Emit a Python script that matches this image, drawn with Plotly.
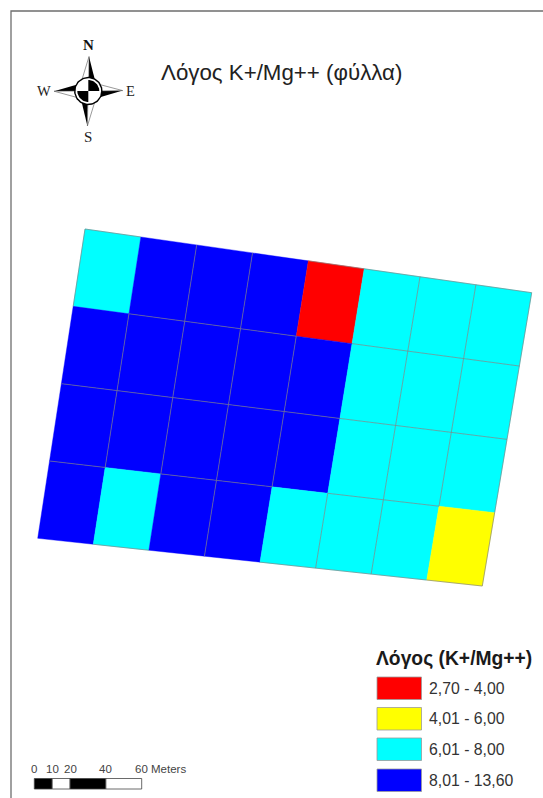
import numpy as np
import plotly.graph_objects as go

# ---- data ----
class_labels = ["2,70 - 4,00", "4,01 - 6,00", "6,01 - 8,00", "8,01 - 13,60"]
class_colors = ["#ff0000", "#ffff00", "#00ffff", "#0000ff"]
# class index of each plot cell, row by row from the north-west corner
row_1 = [2, 3, 3, 3, 0, 2, 2, 2]
row_2 = [3, 3, 3, 3, 3, 2, 2, 2]
row_3 = [3, 3, 3, 3, 3, 2, 2, 2]
row_4 = [3, 2, 3, 3, 2, 2, 2, 1]
cell_rows = [row_1, row_2, row_3, row_4]
# outline of the field on the map
field_nw = (85.0, 229.0)
field_ne = (531.7, 292.7)
field_sw = (37.7, 538.3)
field_se = (482.3, 586.0)
title_text = "Λόγος K+/Mg++ (φύλλα)"
legend_title = "Λόγος (K+/Mg++)"
scale_ticks = [0, 10, 20, 40, 60]
scale_unit = "Meters"

BORDER = "rgba(128,128,128,0.85)"
fig = go.Figure()


def poly(xs, ys, fill, line=None, width=0.0):
    fig.add_trace(go.Scatter(
        x=list(xs) + [xs[0]], y=list(ys) + [ys[0]], mode="lines", fill="toself",
        fillcolor=fill, line=dict(color=line or fill, width=width),
        hoverinfo="skip", showlegend=False))


def seg(p, q):
    fig.add_trace(go.Scatter(x=[p[0], q[0]], y=[p[1], q[1]], mode="lines",
                             line=dict(color=BORDER, width=0.8),
                             hoverinfo="skip", showlegend=False))


def label(x, y, text, size, color="#222222", family="Liberation Sans", anchor="left", bold=False):
    fig.add_annotation(x=x, y=y, text=f"<b>{text}</b>" if bold else text, showarrow=False,
                       xanchor=anchor, yanchor="middle", xshift=0,
                       font=dict(size=size, color=color, family=family),
                       borderpad=0, borderwidth=0)


def vertex(col, row):
    u, v = col / 8, row / 4
    nw, ne, sw, se = map(np.array, (field_nw, field_ne, field_sw, field_se))
    return (1 - v) * ((1 - u) * nw + u * ne) + v * ((1 - u) * sw + u * se)


# ---- field cells ----
for r, row in enumerate(cell_rows):
    for c, cls in enumerate(row):
        pts = [vertex(c, r), vertex(c + 1, r), vertex(c + 1, r + 1), vertex(c, r + 1)]
        poly([p[0] for p in pts], [p[1] for p in pts], class_colors[cls], class_colors[cls], 0.4)

# grey cell outlines show only between cells of one class and on the light outer edge
n_rows, n_cols = len(cell_rows), len(cell_rows[0])
for r in range(n_rows):
    for c in range(n_cols):
        cls = cell_rows[r][c]
        if c + 1 < n_cols and cell_rows[r][c + 1] == cls:
            seg(vertex(c + 1, r), vertex(c + 1, r + 1))
        if r + 1 < n_rows and cell_rows[r + 1][c] == cls:
            seg(vertex(c, r + 1), vertex(c + 1, r + 1))
        if cls != 3:
            if r == 0:
                seg(vertex(c, 0), vertex(c + 1, 0))
            if r == n_rows - 1:
                seg(vertex(c, n_rows), vertex(c + 1, n_rows))
            if c == 0:
                seg(vertex(0, r), vertex(0, r + 1))
            if c == n_cols - 1:
                seg(vertex(n_cols, r), vertex(n_cols, r + 1))

# ---- frame ----
fig.add_trace(go.Scatter(x=[11, 11, 543], y=[798, 11, 11], mode="lines",
                         line=dict(color="#6e6e6e", width=1.3),
                         hoverinfo="skip", showlegend=False))

# ---- north arrow ----
cx, cy = 88.3, 91.0
tips = {"N": (89.0, 56.5), "E": (122.7, 90.6), "S": (87.4, 126.0), "W": (54.0, 91.2)}
b = 7.5
poly([tips["N"][0], cx + b, cx + 0.4], [tips["N"][1], cy - b, cy - b], "#000000")
poly([tips["N"][0], cx - b, cx + 0.4], [tips["N"][1], cy - b, cy - b], "#ffffff", "#555555", 0.6)
poly([tips["E"][0], cx + b, cx + b], [tips["E"][1], cy + b, cy], "#000000")
poly([tips["E"][0], cx + b, cx + b], [tips["E"][1], cy - b, cy], "#ffffff", "#555555", 0.6)
poly([tips["S"][0], cx - b, cx - 0.4], [tips["S"][1], cy + b, cy + b], "#000000")
poly([tips["S"][0], cx + b, cx - 0.4], [tips["S"][1], cy + b, cy + b], "#ffffff", "#555555", 0.6)
poly([tips["W"][0], cx - b, cx - b], [tips["W"][1], cy - b, cy], "#000000")
poly([tips["W"][0], cx - b, cx - b], [tips["W"][1], cy + b, cy], "#ffffff", "#555555", 0.6)
t = np.linspace(0, 2 * np.pi, 73)
poly(cx + 14.2 * np.cos(t), cy + 14.2 * np.sin(t), "#000000")
poly(cx + 12.8 * np.cos(t), cy + 12.8 * np.sin(t), "#ffffff")
for a0 in (-np.pi / 2, np.pi / 2):
    q = np.linspace(a0, a0 + np.pi / 2, 19)
    poly(np.r_[cx, cx + 11.0 * np.cos(q)], np.r_[cy, cy + 11.0 * np.sin(q)], "#000000")
label(88.3, 45, "N", 15, "#111111", "Liberation Serif", "center", True)
label(88.0, 137, "S", 15, "#222222", "Liberation Serif", "center")
label(43.5, 90.5, "W", 14.5, "#222222", "Liberation Serif", "center")
label(130.5, 90.5, "E", 14.5, "#222222", "Liberation Serif", "center")

# ---- title ----
label(161, 72, title_text, 22.3, "#222222")

# ---- legend ----
label(376, 659, legend_title, 19.3, "#1a1a1a", bold=True)
swatch_tops = [677, 707.5, 738, 769]
for top, color, text in zip(swatch_tops, class_colors, class_labels):
    poly([377, 421.5, 421.5, 377], [top, top, top + 22.5, top + 22.5], color, "#9a9a9a", 0.8)
    label(429, top + 11, text, 15.8, "#333333")

# ---- scale bar ----
x0, per_unit = 34.3, 1.79
for left, right, color in zip(scale_ticks[:-1], scale_ticks[1:], ["#000000", "#ffffff", "#000000", "#ffffff"]):
    poly([x0 + left * per_unit, x0 + right * per_unit, x0 + right * per_unit, x0 + left * per_unit],
         [778.5, 778.5, 789, 789], color, "#444444", 0.8)
for v in scale_ticks:
    label(x0 + v * per_unit, 769, str(v), 11.5, "#444444", anchor="center")
label(150.5, 769, scale_unit, 11.5, "#444444")

fig.update_layout(
    width=543, height=798, autosize=False,
    margin=dict(l=0, r=0, t=0, b=0, pad=0),
    paper_bgcolor="#ffffff", plot_bgcolor="#ffffff", showlegend=False,
    xaxis=dict(range=[0, 543], visible=False, fixedrange=True),
    yaxis=dict(range=[798, 0], visible=False, fixedrange=True),
)
fig.write_html("out.html", config=dict(displayModeBar=False),
               post_script="document.body.style.margin='0';document.documentElement.style.overflow='hidden';")
